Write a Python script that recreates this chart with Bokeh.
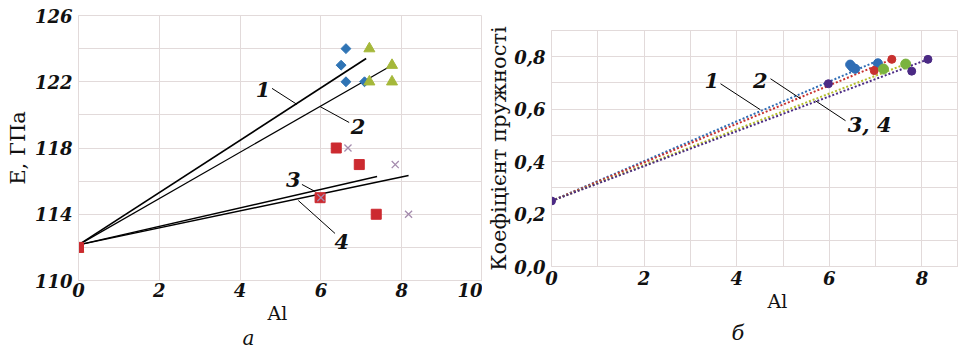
import math
from bokeh.plotting import figure
from bokeh.layouts import row, column
from bokeh.models import FixedTicker, CustomJSTickFormatter, Label, Title
from bokeh.embed import file_html
from bokeh.resources import INLINE

# ---------------- panel a: E, GPa vs Al ----------------
a_x_ticks = [0, 2, 4, 6, 8, 10]
a_y_ticks = [110, 114, 118, 122, 126]
a_y_minor = [112, 116, 120, 124]

s1_al = [6.62, 6.5, 6.62, 7.08]
s1_e = [124.0, 123.0, 122.0, 122.0]
s2_al = [0.0, 7.2, 7.76, 7.2, 7.76]
s2_e = [111.9, 124.0, 123.0, 122.0, 122.0]
s3_al = [0.0, 6.38, 6.95, 5.98, 7.37]
s3_e = [112.0, 118.0, 117.0, 115.0, 114.0]
s4_al = [6.67, 7.84, 8.17, 6.0]
s4_e = [118.0, 117.0, 114.0, 115.0]

# trend lines (start, end)
t1_al = [0.0, 7.12]
t1_e = [112.15, 123.4]
t2_al = [0.0, 7.76]
t2_e = [112.15, 123.0]
t3_al = [0.0, 7.39]
t3_e = [112.15, 116.28]
t4_al = [0.0, 8.17]
t4_e = [112.15, 116.34]

# ---------------- panel б: coefficient vs Al ----------------
b_x_ticks = [0, 2, 4, 6, 8]
b_x_minor = [1, 3, 5, 7, 9]
b_y_ticks = [0.0, 0.2, 0.4, 0.6, 0.8]
b_y_minor = [0.1, 0.3, 0.5, 0.7, 0.9]

k1_al = [6.45, 6.5, 6.56, 7.05]
k1_k = [0.77, 0.76, 0.754, 0.775]
k2_al = [7.35, 6.97]
k2_k = [0.79, 0.747]
k3_al = [7.17, 7.65]
k3_k = [0.753, 0.772]
k4_al = [0.0, 5.98, 8.13, 7.78]
k4_k = [0.25, 0.697, 0.79, 0.745]

l1_al = [0.0, 7.05]
l1_k = [0.25, 0.785]
l2_al = [0.0, 7.35]
l2_k = [0.25, 0.79]
l3_al = [0.0, 7.65]
l3_k = [0.25, 0.772]
l4_al = [0.0, 8.13]
l4_k = [0.25, 0.79]

GRID = "#e2dada"
FONT = "DejaVu Serif"
INK = "#111111"


def style(p):
    p.background_fill_color = "white"
    p.border_fill_color = "white"
    p.outline_line_color = GRID
    for ax in (p.xaxis[0], p.yaxis[0]):
        ax.axis_line_color = GRID
        ax.major_tick_line_color = None
        ax.minor_tick_line_color = None
        ax.major_tick_out = 0
        ax.minor_tick_out = 0
        ax.major_tick_in = 0
        ax.minor_tick_in = 0
        ax.major_label_text_font = FONT
        ax.major_label_text_font_style = "bold italic"
        ax.major_label_text_font_size = "18px"
        ax.major_label_text_color = INK
        ax.axis_label_text_font = FONT
        ax.axis_label_text_font_style = "normal"
        ax.axis_label_text_color = INK
    p.xgrid.grid_line_color = GRID
    p.ygrid.grid_line_color = GRID
    p.xgrid.minor_grid_line_color = GRID
    p.ygrid.minor_grid_line_color = GRID


def lbl(p, x, y, t, size="21px"):
    p.add_layout(Label(x=x, y=y, text=t, text_font=FONT, text_font_style="bold italic",
                       text_font_size=size, text_align="center", text_baseline="middle",
                       text_color=INK))


def caption(p, t, offset, size, style, standoff=0, valign="bottom"):
    p.add_layout(Title(text=t, align="left", offset=offset, text_font=FONT,
                       text_font_style=style, text_font_size=size, text_color=INK,
                       standoff=standoff, vertical_align=valign), "below")


# ---------- left figure ----------
pa = figure(width=482, height=349, x_range=(0, 10), y_range=(110, 126),
            output_backend="svg", toolbar_location=None,
            min_border_left=78, min_border_top=15, min_border_right=0, min_border_bottom=69)
style(pa)
pa.xaxis.ticker = FixedTicker(ticks=a_x_ticks)
pa.yaxis.ticker = FixedTicker(ticks=a_y_ticks, minor_ticks=a_y_minor)
pa.xaxis.major_label_standoff = 2
pa.yaxis.major_label_standoff = 6
pa.yaxis.axis_label = "E, ГПа"
pa.yaxis.axis_label_text_font_size = "21px"
pa.yaxis.axis_label_standoff = 2

pa.line(t1_al, t1_e, line_color="black", line_width=1.7)
pa.line(t2_al, t2_e, line_color="black", line_width=1.2)
pa.line(t3_al, t3_e, line_color="black", line_width=1.5)
pa.line(t4_al, t4_e, line_color="black", line_width=1.5)

pa.scatter(s1_al, s1_e, marker="square", angle=math.pi / 4, size=7,
           fill_color="#2f74b5", line_color="#2f74b5")
pa.scatter(s2_al, s2_e, marker="triangle", size=11, fill_color="#a5b83a", line_color="#a5b83a")
pa.scatter(s3_al, s3_e, marker="square", size=10, fill_color="#cc2a30", line_color="#cc2a30")
pa.scatter(s4_al, s4_e, marker="x", size=10, line_color="#a58cae", line_width=1.3)

# leaders
pa.line([4.79, 5.41], [121.6, 120.63], line_color="black", line_width=1)
pa.line([5.98, 6.70], [120.5, 119.54], line_color="black", line_width=1)
pa.line([5.53, 5.86], [115.8, 115.37], line_color="black", line_width=1)
pa.line([5.44, 6.35], [114.83, 112.84], line_color="black", line_width=1)
lbl(pa, 4.57, 121.53, "1")
lbl(pa, 6.92, 119.3, "2")
lbl(pa, 5.32, 116.1, "3")
lbl(pa, 6.52, 112.35, "4")

caption(pa, "Al", 189, "19px", "normal", 0, "bottom")
caption(pa, "а", 164, "20px", "italic", 0, "bottom")

# ---------- right figure ----------
pb = figure(width=476, height=349, x_range=(0, 8.79), y_range=(0, 0.9),
            output_backend="svg", toolbar_location=None,
            min_border_left=69, min_border_top=30, min_border_right=0, min_border_bottom=83)
style(pb)
pb.xaxis.ticker = FixedTicker(ticks=b_x_ticks, minor_ticks=b_x_minor)
pb.yaxis.ticker = FixedTicker(ticks=b_y_ticks, minor_ticks=b_y_minor)
pb.yaxis.formatter = CustomJSTickFormatter(code="return tick.toFixed(1).replace('.', ',');")
pb.xaxis.major_label_standoff = 4
pb.yaxis.major_label_standoff = 6
pb.yaxis.axis_label = "Коефіцієнт пружності"
pb.yaxis.axis_label_text_font_size = "21px"
pb.yaxis.axis_label_standoff = 0

pb.line(l1_al, l1_k, line_color="#2f6db5", line_width=2, line_dash="2 2")
pb.line(l2_al, l2_k, line_color="#c8312f", line_width=2, line_dash="2 2")
pb.line(l3_al, l3_k, line_color="#b5bf2c", line_width=2, line_dash="2 2")
pb.line(l4_al, l4_k, line_color="#4b2a84", line_width=2, line_dash="2 2")

pb.scatter(k1_al, k1_k, size=9, fill_color="#2f6db5", line_color="#2f6db5")
pb.scatter(k2_al, k2_k, size=8, fill_color="#c8312f", line_color="#c8312f")
pb.scatter(k3_al, k3_k, size=10, fill_color="#7ab33e", line_color="#7ab33e")
pb.scatter(k4_al, k4_k, size=8, fill_color="#4b2a84", line_color="#4b2a84")

pb.line([3.65, 4.51], [0.697, 0.598], line_color="black", line_width=1)
pb.line([4.73, 5.38], [0.716, 0.64], line_color="black", line_width=1)
pb.line([5.70, 6.35], [0.632, 0.556], line_color="black", line_width=1)
lbl(pb, 3.46, 0.71, "1")
lbl(pb, 4.51, 0.709, "2")
lbl(pb, 6.87, 0.541, "3, 4")

caption(pb, "Al", 216, "19px", "normal", 4, "top")
caption(pb, "б", 180, "21px", "italic", 6, "bottom")

layout = row(column(pa), column(pb))
open("out.html", "w").write(file_html(layout, INLINE))
